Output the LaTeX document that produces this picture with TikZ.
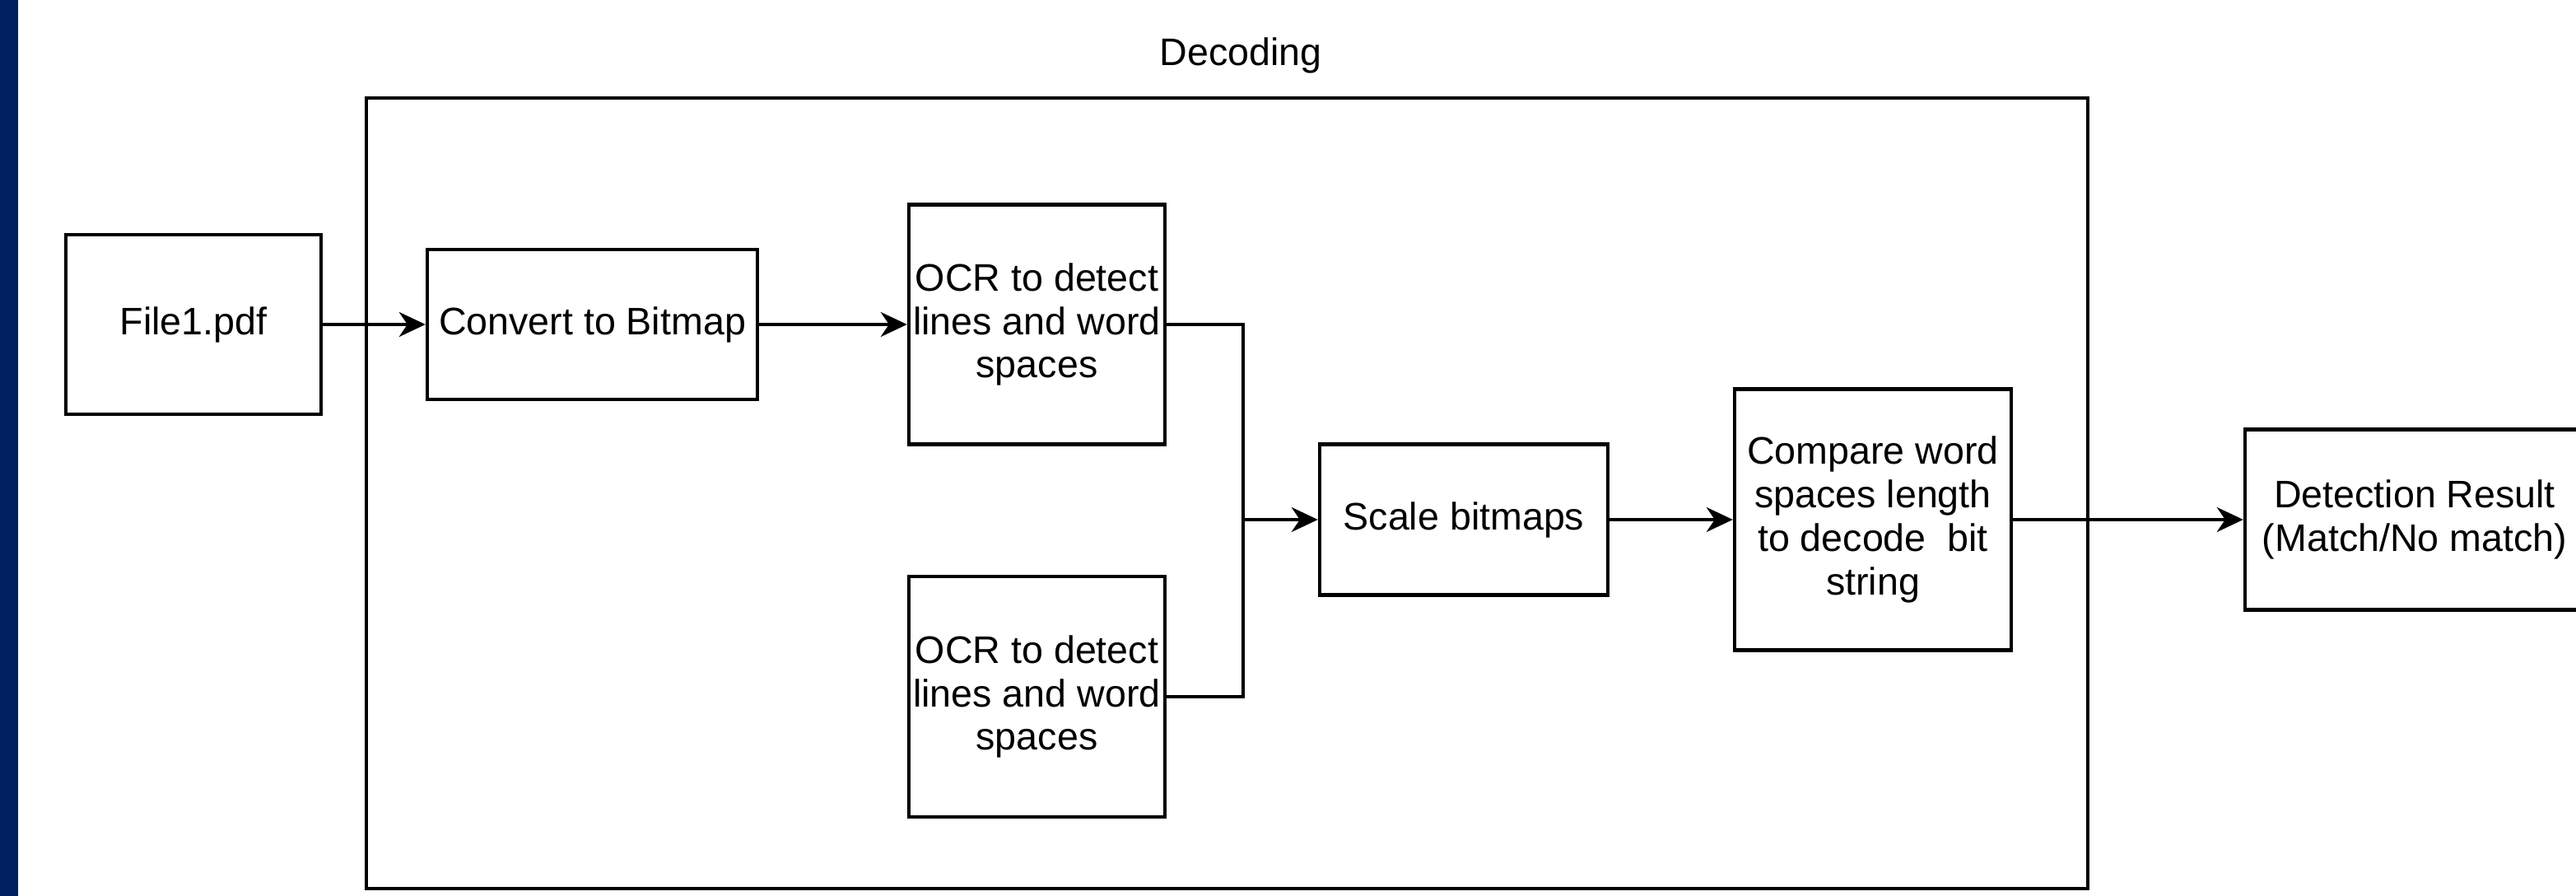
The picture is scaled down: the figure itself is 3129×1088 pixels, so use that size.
\documentclass[tikz,border=0pt]{standalone}
\usepackage{fontspec}
\setmainfont{Liberation Sans}
\usetikzlibrary{arrows.meta}
\definecolor{barblue}{RGB}{0,32,96}
\tikzset{
  blk/.style={draw=black, line width=1.1pt, rectangle, inner sep=0pt, align=center,
    font=\fontsize{11.65}{13.2}\selectfont},
  conn/.style={line width=0.9pt, draw=black},
  arr/.style={conn, -{Stealth[length=8pt,width=7.5pt,inset=2.5pt]}},
}
\begin{document}
\begin{tikzpicture}[x=0.25pt,y=-0.25pt]
\clip (0,0) rectangle (3129,1088);
\fill[white] (0,0) rectangle (3129,1088);
\fill[barblue] (0,0) rectangle (22,1088);
% outer container
\node[draw=black, line width=1.1pt, rectangle, minimum width=522.75pt, minimum height=240pt, inner sep=0pt] (outer) at (1490.5,599) {};
\node[anchor=base, font=\fontsize{11.65}{13.2}\selectfont] (lbl) at (1507,80) {Decoding};
% boxes
\node[blk, minimum width=77.5pt, minimum height=54.5pt] (file) at (235,394) {File1.pdf};
\node[blk, minimum width=100.25pt, minimum height=45.5pt] (conv) at (719.5,394) {Convert to Bitmap};
\node[blk, minimum width=77.75pt, minimum height=72.75pt] (ocra) at (1259.5,394) {OCR to detect\\lines and word\\spaces};
\node[blk, minimum width=77.75pt, minimum height=73pt] (ocrb) at (1259.5,846) {OCR to detect\\lines and word\\spaces};
\node[blk, minimum width=87.5pt, minimum height=45.75pt] (scale) at (1778,631) {Scale bitmaps};
\node[blk, minimum width=84pt, minimum height=79.25pt] (cmp) at (2275,631) {Compare word\\spaces length\\to decode~ bit\\string};
\node[blk, minimum width=103pt, minimum height=54.75pt] (det) at (2933,631) {Detection Result\\(Match/No match)};
\coordinate (jn) at (1510,631);
% connectors
\draw[arr] (file) -- (conv);
\draw[arr] (conv) -- (ocra);
\draw[conn] (ocra.east) -| (jn);
\draw[conn] (ocrb.east) -| (jn);
\draw[arr] (jn) -- (scale.west);
\draw[arr] (scale) -- (cmp);
\draw[arr] (cmp) -- (det);
\end{tikzpicture}
\end{document}
